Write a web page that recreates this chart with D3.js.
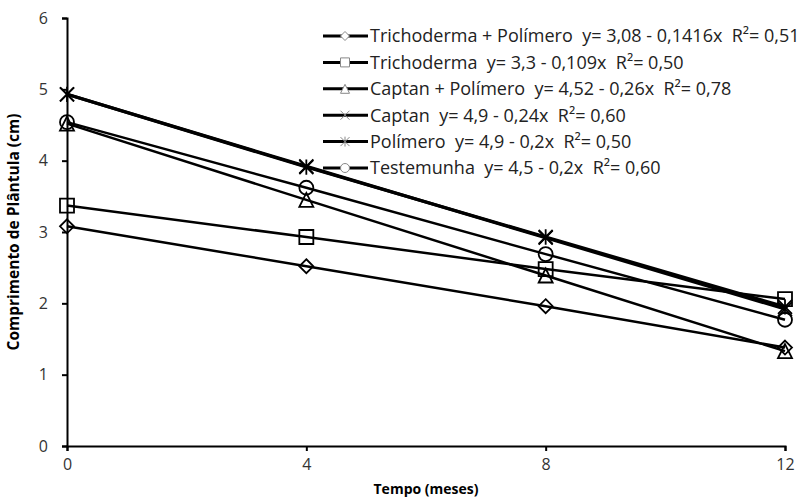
<!DOCTYPE html>
<html>
<head>
<meta charset="utf-8">
<script src="https://cdn.jsdelivr.net/npm/d3@7"></script>
<style>
  body { margin: 0; background: #fff; }
  text { font-family: "Open Sans", sans-serif; }
  .legend text { white-space: pre; }
</style>
</head>
<body>
<div id="chart"></div>
<script>
// months and seedling length per treatment
var meses = [0, 4, 8, 12];
var trichPol = [3.08, 2.52, 1.96, 1.38];
var trich = [3.37, 2.93, 2.48, 2.06];
var captanPol = [4.52, 3.45, 2.39, 1.33];
var captan = [4.93, 3.92, 2.92, 1.92];
var polimero = [4.93, 3.91, 2.93, 1.95];
var testemunha = [4.54, 3.62, 2.69, 1.77];
var yTicks = [0, 1, 2, 3, 4, 5, 6];

var legendLabels = [
  "Trichoderma + Polímero  y= 3,08 - 0,1416x  R²= 0,51",
  "Trichoderma  y= 3,3 - 0,109x  R²= 0,50",
  "Captan + Polímero  y= 4,52 - 0,26x  R²= 0,78",
  "Captan  y= 4,9 - 0,24x  R²= 0,60",
  "Polímero  y= 4,9 - 0,2x  R²= 0,50",
  "Testemunha  y= 4,5 - 0,2x  R²= 0,60"
];
var markers = ["diamond", "square", "triangle", "x", "star", "circle"];
var values = [trichPol, trich, captanPol, captan, polimero, testemunha];
var widths = [2.5, 2.5, 2.5, 3.2, 3.2, 2.5];

var width = 812, height = 501;
var margin = {top: 18, right: 27, bottom: 55, left: 67};

var svg = d3.select("#chart").append("svg")
  .attr("width", width)
  .attr("height", height);

var x = d3.scaleLinear().domain([0, 12]).range([margin.left, width - margin.right]);
var y = d3.scaleLinear().domain([0, 6]).range([height - margin.bottom, margin.top]);

//marker path for a given shape and half size
function markerPath(shape, r) {
  if (shape == "diamond") return `M0,${-r}L${r},0L0,${r}L${-r},0Z`;
  if (shape == "square") return `M${-r},${-r}H${r}V${r}H${-r}Z`;
  if (shape == "triangle") return `M0,${-r}L${r},${r}H${-r}Z`;
  if (shape == "x") return `M${-r},${-r}L${r},${r}M${-r},${r}L${r},${-r}`;
  if (shape == "star") return `M${-r},${-r}L${r},${r}M${-r},${r}L${r},${-r}M0,${-r * 1.1}V${r * 1.1}`;
  return `M${r},0A${r},${r} 0 1,1 ${-r},0A${r},${r} 0 1,1 ${r},0Z`;
}

// axes
var yAxis = svg.append("g")
  .attr("transform", `translate(${margin.left},0)`)
  .call(d3.axisLeft(y).tickValues(yTicks).tickFormat(d3.format("d")).tickSize(5).tickPadding(14));
var xAxis = svg.append("g")
  .attr("transform", `translate(0,${height - margin.bottom})`)
  .call(d3.axisBottom(x).tickValues(meses).tickSize(5).tickPadding(8));

[xAxis, yAxis].forEach(function(a) {
  a.select(".domain").attr("stroke", "#000").attr("stroke-width", 2);
  a.selectAll(".tick line").attr("stroke", "#000").attr("stroke-width", 2);
  a.selectAll(".tick text")
    .attr("fill", "#333")
    .style("font-size", "16px")
    .style("font-family", "'Open Sans', sans-serif");
});

svg.append("text")
  .attr("x", (margin.left + width - margin.right) / 2)
  .attr("y", 494)
  .attr("text-anchor", "middle")
  .attr("font-weight", "bold")
  .attr("font-size", "14px")
  .text("Tempo (meses)");

svg.append("text")
  .attr("transform", `translate(19,${(margin.top + height - margin.bottom) / 2}) rotate(-90)`)
  .attr("text-anchor", "middle")
  .attr("font-weight", "bold")
  .attr("font-size", "15.5px")
  .text("Comprimento de Plântula (cm)");

// legend
var legend = svg.append("g").attr("class", "legend");
legendLabels.forEach(function(label, i) {
  var ly = 36 + i * 26.4;
  legend.append("line")
    .attr("x1", 323).attr("x2", 368)
    .attr("y1", ly).attr("y2", ly)
    .attr("stroke", "#000").attr("stroke-width", 3);
  legend.append("path")
    .attr("d", markerPath(markers[i], 4.5))
    .attr("transform", `translate(345,${ly})`)
    .attr("fill", markers[i] == "x" || markers[i] == "star" ? "none" : "#fff")
    .attr("stroke", "#888")
    .attr("stroke-width", 1);
  legend.append("text")
    .attr("x", 370).attr("y", ly)
    .attr("dy", "0.35em")
    .attr("font-size", "18px")
    .attr("fill", "#222")
    .text(label);
});

// series lines and markers
var line = d3.line().x((d, i) => x(meses[i])).y(d => y(d));

values.forEach(function(vals, s) {
  svg.append("path")
    .attr("d", line(vals))
    .attr("fill", "none")
    .attr("stroke", "#000")
    .attr("stroke-width", widths[s]);

  svg.selectAll(".m" + s)
    .data(vals)
    .enter()
    .append("path")
    .attr("class", "m" + s)
    .attr("d", markerPath(markers[s], 7))
    .attr("transform", (d, i) => `translate(${x(meses[i])},${y(d)})`)
    .attr("fill", "none")
    .attr("stroke", "#000")
    .attr("stroke-width", 1.8);
});
</script>
</body>
</html>
